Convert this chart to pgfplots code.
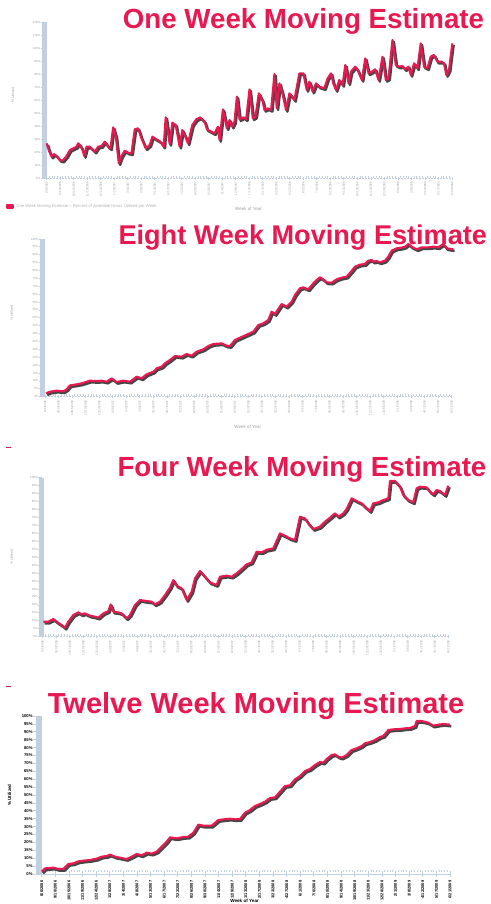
\documentclass[border=0pt]{standalone}
\usepackage{pgfplots}
\usepackage{pgfplotstable}
\pgfplotsset{compat=1.18}
\usepackage{fontspec}
\setmainfont{Liberation Sans}
\definecolor{crim}{RGB}{232,24,80}
\definecolor{barblue}{RGB}{192,208,224}
\definecolor{shadowc}{RGB}{70,70,70}

% Panel 1: one week (units: 3x picture pixels)
\pgfplotstableread{
x y
140 430
148 455
155 470
162 462
170 468
180 480
188 482
200 468
210 450
220 445
230 440
235 430
240 435
248 450
253 468
260 440
270 440
280 450
285 455
295 440
305 438
315 425
325 440
332 445
340 382
348 410
357 490
365 468
375 452
385 458
395 460
405 388
415 385
425 415
438 445
450 435
458 410
470 418
482 425
492 440
498 352
510 432
518 368
528 375
540 440
548 390
556 408
565 430
578 375
590 358
602 352
615 365
622 388
635 395
645 400
655 380
660 420
670 328
682 385
690 360
698 380
705 365
712 290
720 358
732 352
740 358
750 268
760 355
768 350
778 280
790 305
795 330
805 325
815 330
825 222
832 325
840 250
850 285
860 330
870 280
878 290
885 300
900 220
912 220
922 270
930 245
940 275
950 250
960 260
975 265
985 235
995 220
1002 250
1010 270
1020 240
1030 255
1038 195
1048 250
1055 215
1068 200
1075 210
1088 240
1098 175
1108 220
1118 215
1128 208
1138 240
1150 170
1160 240
1168 235
1180 120
1190 195
1200 200
1210 198
1218 208
1228 200
1235 225
1245 190
1255 205
1265 130
1275 200
1285 205
1295 170
1305 165
1315 185
1328 185
1335 190
1342 225
1350 210
1360 130
}\tabOne

% Panel 2: eight week
\pgfplotstableread{
x y
18 490
30 485
50 482
70 484
80 478
90 466
110 463
125 460
150 452
170 453
185 452
200 455
215 445
230 456
250 452
270 455
290 440
305 445
320 433
340 425
350 415
365 410
375 400
390 390
405 378
425 380
440 372
455 377
470 365
490 358
505 348
520 342
545 340
560 347
570 348
585 330
600 323
620 314
640 305
655 285
670 280
685 270
695 245
705 252
725 222
740 230
755 215
765 195
780 175
790 172
805 178
820 160
830 150
840 142
850 148
860 157
875 158
890 148
905 143
920 140
935 123
945 110
960 104
975 102
985 92
995 90
1000 95
1010 93
1020 97
1035 92
1045 80
1055 62
1070 55
1085 53
1095 50
1105 42
1115 50
1130 58
1145 52
1165 52
1180 50
1195 52
1210 42
1220 55
1240 58
}\tabEight

% Panel 3: four week
\pgfplotstableread{
x y
10 530
25 530
40 522
50 530
65 540
75 548
85 530
100 510
115 502
125 508
135 505
150 512
165 515
175 518
190 505
205 498
212 478
220 500
235 502
245 505
260 520
270 510
285 480
300 465
320 468
335 470
345 478
360 470
375 450
390 428
400 405
410 422
425 430
440 465
455 440
465 400
480 378
495 395
510 412
530 420
540 395
560 392
575 395
590 385
605 372
620 358
635 352
650 320
665 322
680 314
700 310
720 265
735 272
750 280
765 285
780 215
795 220
805 235
820 252
840 245
855 230
870 218
885 205
895 215
910 205
920 192
935 160
950 168
965 175
975 185
990 198
1000 175
1015 172
1030 165
1045 160
1050 108
1065 108
1080 125
1090 150
1105 165
1120 172
1130 130
1140 125
1160 127
1170 140
1180 148
1190 135
1200 138
1215 150
1225 122
}\tabFour

% Panel 4: twelve week
\pgfplotstableread{
x y
5 515
15 505
40 503
55 507
70 507
85 492
100 490
115 484
130 482
150 480
170 476
185 470
200 468
210 464
225 470
245 474
260 477
275 470
290 462
305 466
320 458
335 461
350 455
365 440
380 425
390 412
410 415
430 411
445 410
460 398
475 374
490 377
515 377
535 360
550 358
570 356
585 358
600 357
615 338
630 330
645 318
660 312
675 305
690 294
705 292
720 275
735 258
750 256
765 238
780 228
795 213
810 207
825 195
840 186
850 188
860 177
875 165
885 163
895 170
905 173
920 165
935 150
950 145
965 138
975 130
990 126
1005 120
1020 111
1030 108
1045 90
1060 88
1080 87
1095 85
1110 84
1125 78
1130 63
1145 63
1165 68
1180 77
1195 74
1210 72
1230 74
}\tabTwelve

\pgfplotsset{
  datelabels/.style={xticklabels={8/6/2006,9/10/2006,10/15/2006,11/19/2006,12/24/2006,1/28/2007,3/4/2007,4/8/2007,5/13/2007,6/17/2007,7/22/2007,8/26/2007,9/30/2007,11/4/2007,12/9/2007,1/13/2008,2/17/2008,3/23/2008,4/27/2008,6/1/2008,7/6/2008,8/10/2008,9/14/2008,10/19/2008,11/23/2008,12/28/2008,2/1/2009,3/8/2009,4/12/2009,5/17/2009,6/21/2009}},
  pct21/.style={yticklabels={100\%,95\%,90\%,85\%,80\%,75\%,70\%,65\%,60\%,55\%,50\%,45\%,40\%,35\%,30\%,25\%,20\%,15\%,10\%,5\%,0\%}},
  panel/.style={
    scale only axis, anchor=south west, clip=false,
    axis x line*=bottom, axis y line*=left, axis line style={-},
    y dir=reverse,
    y axis line style={line width=5pt, color=barblue},
    x axis line style={line width=1pt, color=barblue, dash pattern=on 2pt off 1pt},
    tick align=outside,
    ytick style={color=barblue, line width=0.8pt},
    xtick style={color=barblue, line width=0.8pt, yshift=1.5pt},
    minor tick style={yshift=1pt},
    minor x tick num=4,
    minor tick length=2pt, major tick length=3pt,
    xticklabel style={rotate=90, anchor=east, inner sep=0.5pt, font=\fontsize{3}{3}\selectfont, text=gray!75},
    yticklabel style={inner sep=0.5pt, font=\fontsize{3}{3}\selectfont, text=gray!75},
    ylabel style={font=\fontsize{3.5}{4}\selectfont, text=gray!75, anchor=center},
    xlabel style={font=\fontsize{4.5}{5}\selectfont, text=gray!75, anchor=center},
    title style={inner sep=0pt, anchor=base west, font=\fontsize{27.7}{30}\selectfont\bfseries, text=crim},
    legend style={draw=none, fill=none, inner sep=0pt, anchor=west, font=\fontsize{4.2}{5}\selectfont, text=gray!60},
    legend image code/.code={\draw[crim, line width=0.8pt] (0pt,0pt) -- (5pt,0pt);},
  },
  shadowline/.style={color=shadowc, line width=2.5pt, line join=round, xshift=1.3pt, yshift=-1.6pt, forget plot},
  redline/.style={color=crim, line width=2.1pt, line join=round},
}

\begin{document}
\begin{tikzpicture}
\useasboundingbox (0,0) rectangle (490pt,-904pt);
\clip (0,0) rectangle (490pt,-904pt);

% ---------- One week ----------
\begin{axis}[panel, at={(44pt,-178pt)}, width=409pt, height=156pt,
  xmin=132, xmax=1362, ymin=66, ymax=534,
  ytick={66,105,...,535},
  yticklabels={120\%,110\%,100\%,90\%,80\%,70\%,60\%,50\%,40\%,30\%,20\%,10\%,0\%},
  xtick={140,180.63,...,1361}, datelabels,
  title={One Week Moving Estimate}, title style={at={(0.1924,0.9211)}},
  ylabel={\% Utilized}, ylabel style={at={(axis description cs:-0.0758,0.532)}},
  xlabel={Week of Year}, xlabel style={at={(axis description cs:0.5,-0.2)}},
  legend style={at={(-0.0929,-0.1827)}},
  legend image code/.code={\fill[crim] (0pt,-1.5pt) rectangle (6pt,1.5pt);},
]
\addplot[shadowline] table[x=x,y=y] {\tabOne};
\addplot[redline] table[x=x,y=y] {\tabOne};
\addlegendentry{One Week Moving Estimate -- Percent of Available Hours Utilized per Week}
\end{axis}

% ---------- Eight week ----------
\begin{axis}[panel, at={(42.3pt,-396.7pt)}, width=411pt, height=157.7pt,
  xmin=7, xmax=1240, ymin=27, ymax=500,
  ytick={27,50.65,...,501}, pct21,
  xtick={15,55.67,...,1236}, datelabels,
  title={Eight Week Moving Estimate}, title style={at={(0.185,0.930)}, font=\fontsize{27.1}{30}\selectfont\bfseries},
  ylabel={\% Utilized}, ylabel style={at={(axis description cs:-0.0745,0.53)}},
  xlabel={Week of Year}, xlabel style={at={(axis description cs:0.5,-0.192)}},
  legend style={at={(-0.0908,-0.319)}},
]
\addplot[shadowline] table[x=x,y=y] {\tabEight};
\addplot[redline] table[x=x,y=y] {\tabEight};
\addlegendentry{}
\end{axis}

% ---------- Four week ----------
\begin{axis}[panel, at={(41.5pt,-636.7pt)}, width=407.8pt, height=159pt,
  xmin=4.5, xmax=1228, ymin=98, ymax=575,
  ytick={98,121.85,...,576}, pct21,
  xtick={8,48.57,...,1226}, datelabels,
  title={Four Week Moving Estimate}, title style={at={(0.1859,0.973)}},
  ylabel={\% Utilized}, ylabel style={at={(axis description cs:-0.073,0.5)}},
  legend style={at={(-0.0895,-0.31)}},
]
\addplot[shadowline] table[x=x,y=y] {\tabFour};
\addplot[redline] table[x=x,y=y] {\tabFour};
\addlegendentry{}
\end{axis}

% ---------- Twelve week ----------
\begin{axis}[panel, at={(39.2pt,-874pt)}, width=410.8pt, height=158pt,
  xmin=-2.5, xmax=1230, ymin=48, ymax=522,
  y axis line style={line width=6pt},
  x axis line style={solid, line width=0.8pt},
  ytick={48,71.7,...,523}, pct21,
  major tick length=6pt,
  xtick={5,45.83,...,1231}, datelabels,
  xtick style={yshift=1.5pt},
  xticklabel style={font=\fontsize{4}{4}\selectfont\bfseries, text=black},
  yticklabel style={font=\fontsize{4.2}{4.2}\selectfont\bfseries, text=black},
  title={Twelve Week Moving Estimate}, title style={at={(0.0207,0.979)}, font=\fontsize{29}{31}\selectfont\bfseries},
  ylabel={\% Utilized}, ylabel style={at={(axis description cs:-0.0723,0.5)}, font=\fontsize{4.5}{5}\selectfont\bfseries, text=black},
  xlabel={Week of Year}, xlabel style={at={(axis description cs:0.5,-0.1835)}, anchor=south, font=\fontsize{4.6}{5}\selectfont\bfseries, text=black, inner sep=0pt},
]
\addplot[shadowline] table[x=x,y=y] {\tabTwelve};
\addplot[redline] table[x=x,y=y] {\tabTwelve};
\end{axis}
\end{tikzpicture}
\end{document}
